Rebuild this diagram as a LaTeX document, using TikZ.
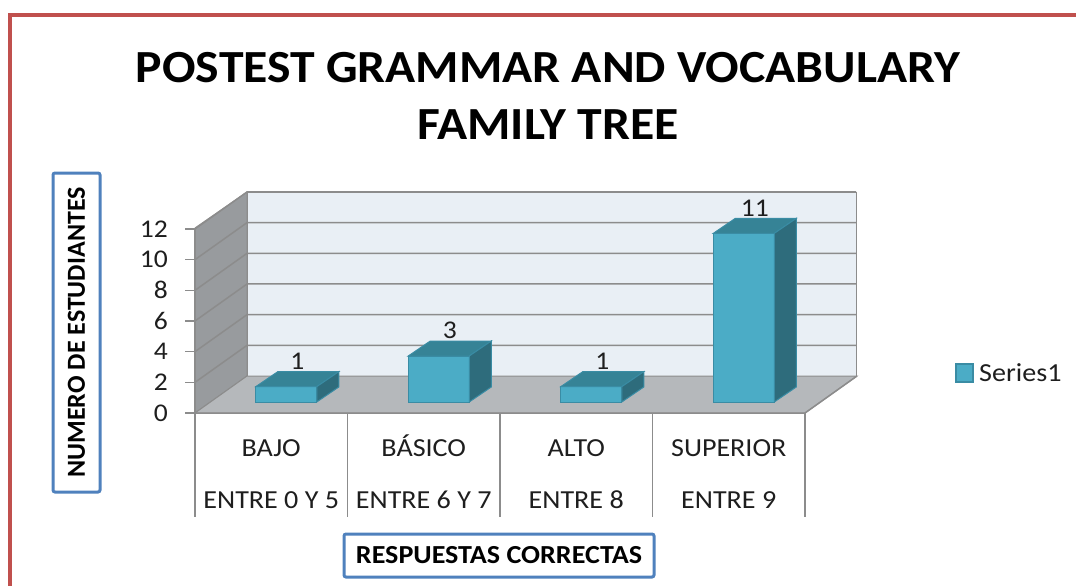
\documentclass[tikz,border=0pt]{standalone}
\usepackage{fontspec}
\setmainfont{Carlito}[FakeStretch=1.08]
\newfontfamily\uprightlabel{Carlito}
\usepackage{tikz}
\definecolor{framered}{RGB}{192,80,77}
\definecolor{boxblue}{RGB}{79,129,189}
\definecolor{sidegray}{RGB}{152,155,158}
\definecolor{floorgray}{RGB}{181,184,187}
\definecolor{wallblue}{RGB}{233,239,245}
\definecolor{gridgray}{RGB}{140,140,140}
\definecolor{barfront}{RGB}{75,172,198}
\definecolor{bartop}{RGB}{54,131,150}
\definecolor{barside}{RGB}{46,108,124}
\definecolor{baredge}{RGB}{58,140,164}
\definecolor{txtgray}{RGB}{30,30,30}
\tikzset{
  gridline/.style={draw=gridgray, line width=1.5pt},
  axisline/.style={draw=gridgray, line width=1.5pt},
  ticklabel/.style={font=\fontsize{25.5}{30}\selectfont, text=txtgray, anchor=east, inner sep=0pt},
  catlabel/.style={font=\fontsize{26}{30}\selectfont, text=txtgray, inner sep=0pt, anchor=base},
  vallabel/.style={font=\fontsize{25.5}{30}\selectfont, text=txtgray, anchor=south, inner sep=2pt},
  titlebox/.style={draw=boxblue, line width=3pt, rounded corners=2pt, fill=white,
    font=\bfseries\fontsize{26}{30}\selectfont},
  barface/.style={draw=baredge, line width=1pt}
}
\begin{document}
\begin{tikzpicture}[x=1pt, y=-1pt]
\useasboundingbox (0,0) rectangle (1076,586);
\clip (0,0) rectangle (1076,586);
% frame
\draw[framered, line width=4pt] (10,620) -- (10,15) -- (1100,15);
% title
\node[font=\bfseries\fontsize{46}{57}\selectfont, align=center] (title) at (548,96)
  {POSTEST GRAMMAR AND VOCABULARY\\FAMILY TREE};
% walls and floor
\coordinate (o) at (195,413);
\coordinate (fr) at (805,413);
\coordinate (bl) at (247,376);
\coordinate (br) at (857,376);
\coordinate (tl) at (247,192);
\coordinate (sl) at (195,228);
\filldraw[fill=sidegray, draw=gridgray, line width=1pt] (o) -- (bl) -- (tl) -- (sl) -- cycle;
\filldraw[fill=wallblue, draw=gridgray, line width=1pt] (bl) rectangle (856,192);
\filldraw[fill=floorgray, draw=gridgray, line width=1pt] (o) -- (fr) -- (br) -- (bl) -- cycle;
\foreach \k in {1,...,6} {
  \draw[gridline] (195,413-30.67*\k) -- (247,376-30.67*\k) -- (856,376-30.67*\k);
}
% axes
\draw[axisline] (sl) -- (195,517);
\draw[axisline] (o) -- (fr) -- (br);
\foreach \k in {0,...,6} {
  \draw[axisline] (185,413-30.67*\k) -- (195,413-30.67*\k);
  \pgfmathtruncatemacro{\v}{2*\k}
  \node[ticklabel] (tick\k) at (168,413-30.67*\k) {\v};
}
\foreach \i in {1,...,4} {
  \draw[axisline] (195+152.5*\i,413) -- (195+152.5*\i,517);
}
% bars
\foreach \c/\v in {0/1, 1/3, 2/1, 3/11} {
  \pgfmathsetmacro{\xl}{195+152.5*\c+76.25+15-30.5}
  \pgfmathsetmacro{\xr}{\xl+61}
  \pgfmathsetmacro{\yt}{402-15.33*\v}
  \filldraw[barface, fill=barfront] (\xl,402) rectangle (\xr,\yt);
  \filldraw[barface, fill=bartop] (\xl,\yt) -- (\xr,\yt) -- (\xr+22,\yt-15) -- (\xl+22,\yt-15) -- cycle;
  \filldraw[barface, fill=barside] (\xr,402) -- (\xr,\yt) -- (\xr+22,\yt-15) -- (\xr+22,387) -- cycle;
  \node[vallabel] (val\c) at (\xl+41.5,\yt-15) {\v};
}
% category labels
\node[catlabel] (cat1) at (271.25,456.5) {BAJO};
\node[catlabel] (cat2) at (423.75,456.5) {BÁSICO};
\node[catlabel] (cat3) at (576.25,456.5) {ALTO};
\node[catlabel] (cat4) at (728.75,456.5) {SUPERIOR};
\node[catlabel] (rng1) at (271.25,508.5) {ENTRE 0 Y 5};
\node[catlabel] (rng2) at (423.75,508.5) {ENTRE 6 Y 7};
\node[catlabel] (rng3) at (576.25,508.5) {ENTRE 8};
\node[catlabel] (rng4) at (728.75,508.5) {ENTRE 9};
% legend
\filldraw[barface, fill=barfront, line width=1.5pt] (956,364) rectangle (973,382);
\node[catlabel, anchor=west] (legend) at (979,373) {Series1};
% axis titles
\node[titlebox, minimum width=310pt, minimum height=43pt, inner sep=0pt] (xlabel) at (499,555.5)
  {RESPUESTAS CORRECTAS};
\node[titlebox, font=\uprightlabel\bfseries\fontsize{26}{30}\selectfont, rotate=90,
  minimum width=319pt, minimum height=47pt, inner sep=0pt] (ylabel) at (76.5,332.5)
  {NUMERO DE ESTUDIANTES};
\end{tikzpicture}
\end{document}
